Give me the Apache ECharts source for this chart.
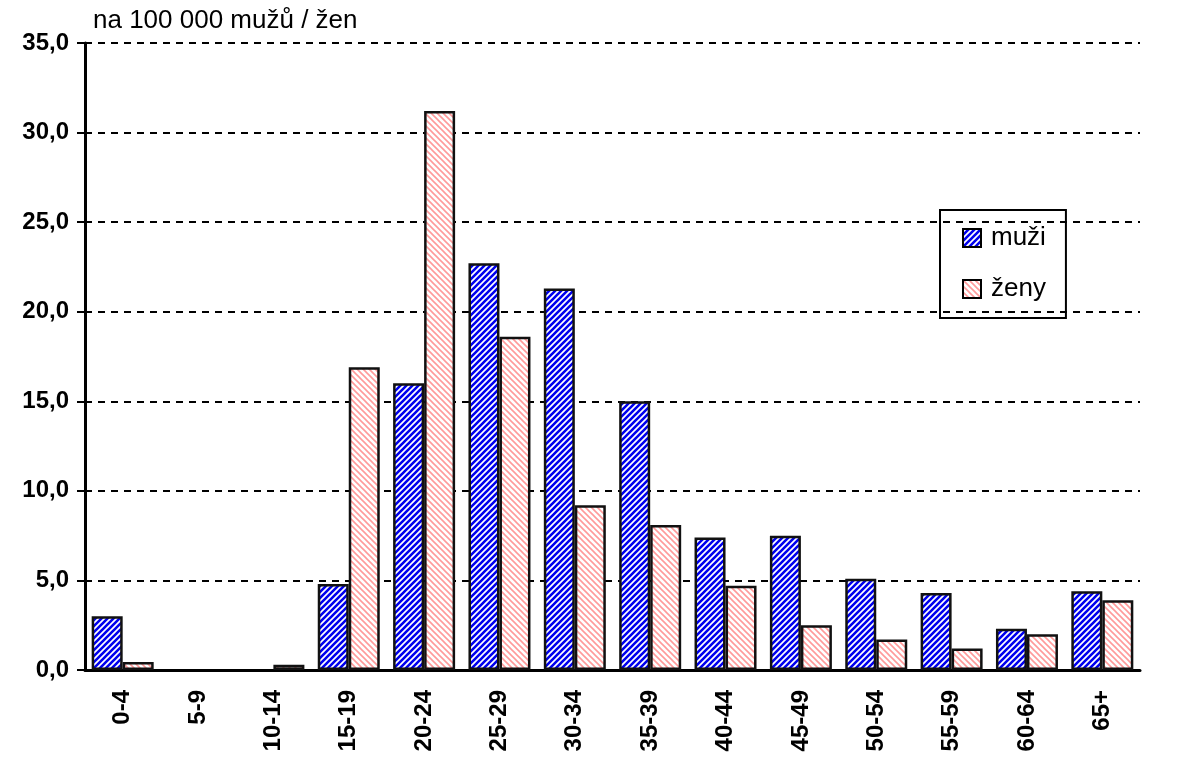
<!DOCTYPE html>
<html>
<head>
<meta charset="utf-8">
<script src="https://cdn.jsdelivr.net/npm/echarts@6/dist/echarts.min.js"></script>
<style>
  html, body { margin: 0; padding: 0; background: #fff; }
  #chart { width: 1185px; height: 758px; }
</style>
</head>
<body>
<div id="chart"></div>
<script>
var categories = ['0-4', '5-9', '10-14', '15-19', '20-24', '25-29', '30-34', '35-39', '40-44', '45-49', '50-54', '55-59', '60-64', '65+'];
var muzi = [3.0, 0, 0, 4.8, 16.0, 22.7, 21.3, 15.0, 7.4, 7.5, 5.1, 4.3, 2.3, 4.4];
var zeny = [0.45, 0, 0.3, 16.9, 31.2, 18.6, 9.2, 8.1, 4.7, 2.5, 1.7, 1.2, 2.0, 3.9];
var yTicks = [0, 5, 10, 15, 20, 25, 30, 35];

// zero bars are not drawn in the original
function noZero(arr) {
  return arr.map(function (v) { return v === 0 ? '-' : v; });
}

// diagonal stripe tile
function stripes(bg, fg, size, dir, lw) {
  var c = document.createElement('canvas');
  c.width = size; c.height = size;
  var g = c.getContext('2d');
  g.fillStyle = bg;
  g.fillRect(0, 0, size, size);
  g.strokeStyle = fg;
  g.lineWidth = lw;
  g.beginPath();
  for (var k = -1; k <= 1; k++) {
    if (dir === '/') {
      g.moveTo(k * size - 1, size + 1);
      g.lineTo(k * size + size + 1, -1);
    } else {
      g.moveTo(k * size - 1, -1);
      g.lineTo(k * size + size + 1, size + 1);
    }
  }
  g.stroke();
  return c;
}

var bluePat = { image: stripes('#ffffff', '#0000ee', 6, '/', 2.6), repeat: 'repeat' };
var pinkPat = { image: stripes('#ffffff', '#ff9a9a', 6, '\\', 1.6), repeat: 'repeat' };

var chart = echarts.init(document.getElementById('chart'));
chart.setOption({
  animation: false,
  textStyle: { fontFamily: 'Liberation Sans, Arial, sans-serif' },
  title: {
    text: 'na 100 000 mužů / žen',
    left: 88, top: 3,
    textStyle: { fontSize: 26, fontWeight: 'normal', color: '#000' }
  },
  legend: {
    orient: 'vertical',
    left: 940, top: 210,
    padding: [15, 20, 16, 22],
    itemGap: 25,
    itemWidth: 18, itemHeight: 18,
    icon: 'rect',
    borderColor: '#000', borderWidth: 2,
    itemStyle: { borderColor: '#000', borderWidth: 2 },
    textStyle: { fontSize: 26, color: '#000', padding: [0, 0, 0, 5] },
    data: ['muži', 'ženy']
  },
  grid: { left: 85, right: 45, top: 43, bottom: 88, containLabel: false },
  xAxis: {
    type: 'category',
    data: categories,
    axisLine: { lineStyle: { color: '#000', width: 3 } },
    axisTick: { show: false },
    axisLabel: {
      rotate: 90, fontSize: 24, fontWeight: 'bold', color: '#000', margin: 20
    }
  },
  yAxis: {
    type: 'value',
    min: 0, max: 35, interval: 5,
    axisLine: { show: true, lineStyle: { color: '#000', width: 3 } },
    axisTick: { show: true, length: 8, lineStyle: { color: '#000', width: 2 } },
    axisLabel: {
      fontSize: 24, fontWeight: 'bold', color: '#000', margin: 16,
      formatter: function (v) { return yTicks.indexOf(v) >= 0 ? v.toFixed(1).replace('.', ',') : ''; }
    },
    splitLine: { lineStyle: { color: '#000', width: 2, type: [7, 6] } }
  },
  series: [
    {
      name: 'muži', type: 'bar', data: noZero(muzi),
      barWidth: 31, barGap: '0%',
      itemStyle: { color: bluePat, borderColor: '#111', borderWidth: 2.5 }
    },
    {
      name: 'ženy', type: 'bar', data: noZero(zeny),
      barWidth: 31,
      itemStyle: { color: pinkPat, borderColor: '#111', borderWidth: 2.5 }
    }
  ]
});
</script>
</body>
</html>
